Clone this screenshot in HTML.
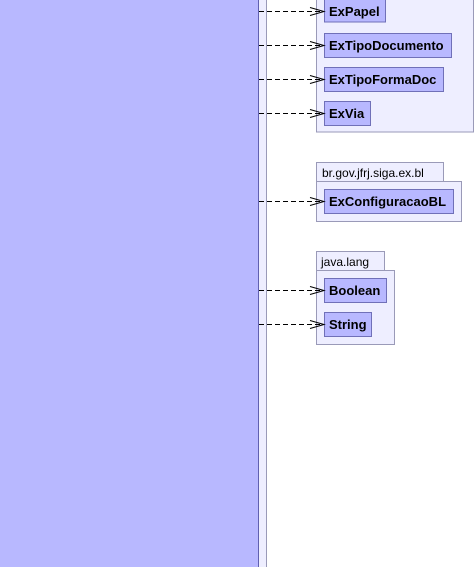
<!DOCTYPE html>
<html><head><meta charset="utf-8"><style>
html,body{margin:0;padding:0;background:#fff;width:476px;height:567px;overflow:hidden}
svg{display:block}
text{font-family:"Liberation Sans",sans-serif}
.c{font-weight:bold;font-size:13px;fill:#000}
.p{font-size:12px;fill:#000}
</style></head><body>
<svg width="476" height="567" viewBox="0 0 476 567" xmlns="http://www.w3.org/2000/svg">
<rect x="0" y="0" width="258" height="567" fill="#b8b8ff"/>
<line x1="258.5" y1="0" x2="258.5" y2="567" stroke="#6060b0"/>
<rect x="259" y="0" width="7" height="567" fill="#eeeeff"/>
<line x1="266.5" y1="0" x2="266.5" y2="567" stroke="#9a9ab8"/>

<!-- package 1 -->
<rect x="316.5" y="-5" width="157" height="137" fill="#eeeeff" stroke="#9a9ab8"/>
<!-- package 2 -->
<rect x="316.5" y="162.5" width="127" height="19" fill="#eeeeff" stroke="#9a9ab8"/>
<rect x="316.5" y="181.5" width="145" height="40" fill="#eeeeff" stroke="#9a9ab8"/>
<text class="p" x="322" y="177">br.gov.jfrj.siga.ex.bl</text>
<!-- package 3 -->
<rect x="316.5" y="251.5" width="68" height="19" fill="#eeeeff" stroke="#9a9ab8"/>
<rect x="316.5" y="270.5" width="78" height="74" fill="#eeeeff" stroke="#9a9ab8"/>
<text class="p" x="321" y="266">java.lang</text>

<g fill="#b8b8ff" stroke="#7070b8">
<rect x="324.5" y="-1" width="61" height="23"/>
<rect x="324.5" y="33.5" width="127" height="24"/>
<rect x="324.5" y="67.5" width="119" height="24"/>
<rect x="324.5" y="101.5" width="46" height="24"/>
<rect x="324.5" y="189.5" width="129" height="24"/>
<rect x="324.5" y="278.5" width="62" height="24"/>
<rect x="324.5" y="312.5" width="47" height="24"/>
</g>
<text class="c" x="329" y="16">ExPapel</text>
<text class="c" x="329" y="50">ExTipoDocumento</text>
<text class="c" x="329" y="84">ExTipoFormaDoc</text>
<text class="c" x="329" y="118">ExVia</text>
<text class="c" x="329" y="206">ExConfiguracaoBL</text>
<text class="c" x="329" y="295">Boolean</text>
<text class="c" x="329" y="329">String</text>

<g stroke="#000" fill="none" stroke-width="1">
<g stroke-dasharray="5,3">
<line x1="259" y1="11.5" x2="323" y2="11.5"/>
<line x1="259" y1="45.5" x2="323" y2="45.5"/>
<line x1="259" y1="79.5" x2="323" y2="79.5"/>
<line x1="259" y1="113.5" x2="323" y2="113.5"/>
<line x1="259" y1="201.5" x2="323" y2="201.5"/>
<line x1="259" y1="290.5" x2="323" y2="290.5"/>
<line x1="259" y1="324.5" x2="323" y2="324.5"/>
</g>
<polyline points="310,7.5 324,11.5 310,15.5"/>
<polyline points="310,41.5 324,45.5 310,49.5"/>
<polyline points="310,75.5 324,79.5 310,83.5"/>
<polyline points="310,109.5 324,113.5 310,117.5"/>
<polyline points="310,197.5 324,201.5 310,205.5"/>
<polyline points="310,286.5 324,290.5 310,294.5"/>
<polyline points="310,320.5 324,324.5 310,328.5"/>
</g>
</svg>
</body></html>
